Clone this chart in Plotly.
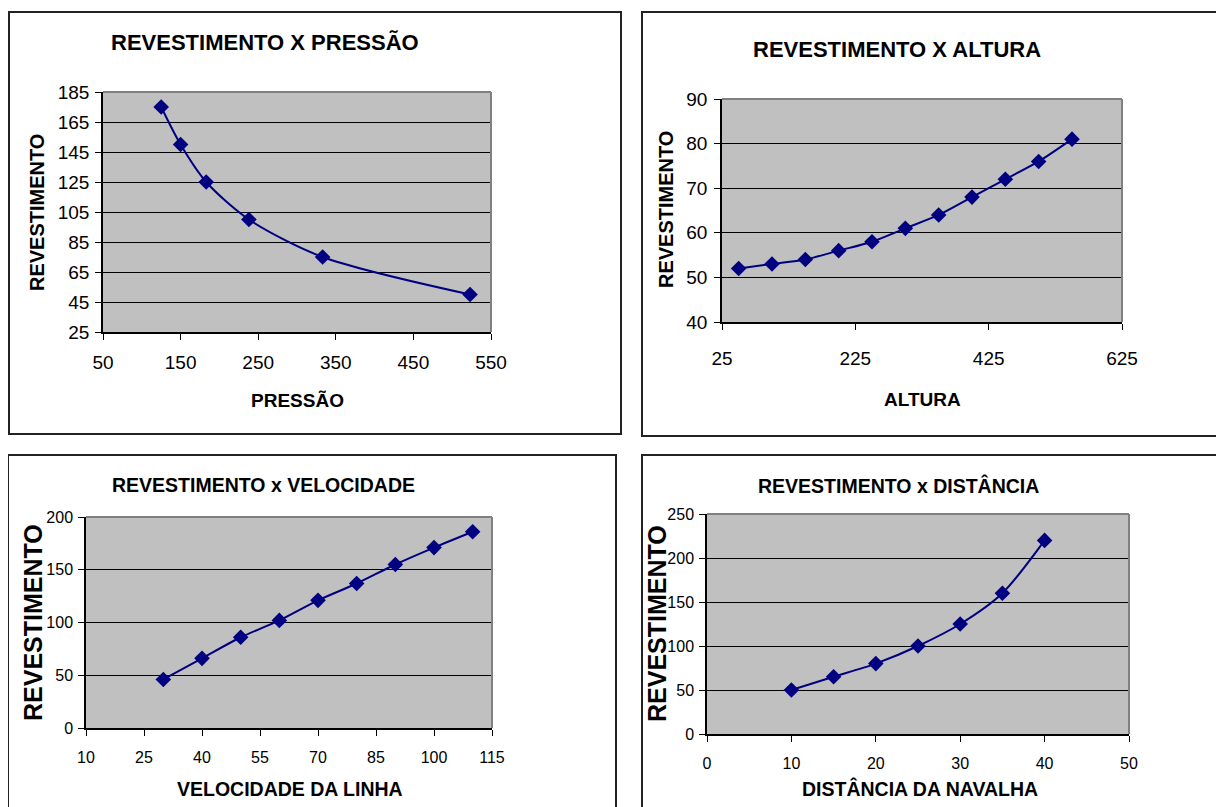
import plotly.graph_objects as go

W, H = 1224, 807
OFF = 8  # page body margin that the browser adds around the figure

# ---------------- data ----------------
pressao_x = [125, 150, 183, 238, 333, 523]
pressao_y = [175, 150, 125, 100, 75, 50]

altura_x = [50, 100, 150, 200, 250, 300, 350, 400, 450, 500, 550]
altura_y = [52, 53, 54, 56, 58, 61, 64, 68, 72, 76, 81]

velocidade_x = [30, 40, 50, 60, 70, 80, 90, 100, 110]
velocidade_y = [46, 66, 86, 102, 121, 137, 155, 171, 186]

distancia_x = [10, 15, 20, 25, 30, 35, 40]
distancia_y = [50, 65, 80, 100, 125, 160, 220]

titles = ["REVESTIMENTO X PRESSÃO", "REVESTIMENTO X ALTURA",
          "REVESTIMENTO x VELOCIDADE", "REVESTIMENTO x DISTÂNCIA"]
xtitles = ["PRESSÃO", "ALTURA", "VELOCIDADE DA LINHA", "DISTÂNCIA DA NAVALHA"]
ytitle = "REVESTIMENTO"

x_ticks = [[50, 150, 250, 350, 450, 550], [25, 225, 425, 625],
           [10, 25, 40, 55, 70, 85, 100, 115], [0, 10, 20, 30, 40, 50]]
y_ticks = [[25, 45, 65, 85, 105, 125, 145, 165, 185], [40, 50, 60, 70, 80, 90],
           [0, 50, 100, 150, 200], [0, 50, 100, 150, 200, 250]]

series = [(pressao_x, pressao_y), (altura_x, altura_y),
          (velocidade_x, velocidade_y), (distancia_x, distancia_y)]

# ---------------- layout (page pixels) ----------------
plot_px = [(103, 92, 491, 332), (722, 99, 1122, 322),
           (86, 517, 492, 728), (707, 514, 1129, 734)]
frame_px = [(9, 12, 621, 434), (642, 12, 1260, 436),
            (8, 455, 616, 840), (642, 455, 1260, 840)]
title_pos = [(265, 43), (897, 49), (263, 485), (898, 485)]
xtitle_pos = [(297, 400), (922, 399), (290, 789), (920, 788)]
ytitle_pos = [(37, 213), (666, 210), (33, 623), (657, 624)]
x_standoff = [6, 12, 8, 8]
y_standoff = [2, 3, 2, 2]

NAVY = "#000080"
FONT = "Liberation Sans, Arial, sans-serif"


def px(x):
    return (x - OFF) / W


def py(y):
    return 1 - (y - OFF) / H


fig = go.Figure()
shapes = []
annotations = []

for i in range(4):
    ax = "" if i == 0 else str(i + 1)
    xs, ys = series[i]
    fig.add_trace(go.Scatter(
        x=xs, y=ys, mode="lines+markers",
        line=dict(color=NAVY, width=2, shape="spline", smoothing=0.8),
        marker=dict(symbol="diamond", size=12, color=NAVY),
        xaxis="x" + ax, yaxis="y" + ax, showlegend=False,
    ))
    x0, y0, x1, y1 = plot_px[i]
    top = i < 2
    tick_size = 19 if top else 16
    xkey = "xaxis" + ax
    ykey = "yaxis" + ax
    fig.update_layout(**{
        xkey: dict(domain=[px(x0), px(x1)], anchor="y" + ax,
                   range=[x_ticks[i][0], x_ticks[i][-1]],
                   tickvals=x_ticks[i], ticks="outside", ticklen=6,
                   tickcolor="black", tickwidth=1.2, automargin=False,
                   showline=True, linecolor="black", linewidth=1.5,
                   showgrid=False, zeroline=False,
                   ticklabelstandoff=x_standoff[i],
                   tickfont=dict(family=FONT, size=tick_size, color="black")),
        ykey: dict(domain=[py(y1), py(y0)], anchor="x" + ax,
                   range=[y_ticks[i][0], y_ticks[i][-1]],
                   tickvals=y_ticks[i], ticks="outside", ticklen=6,
                   tickcolor="black", tickwidth=1.2, automargin=False,
                   showline=True, linecolor="black", linewidth=1.5,
                   showgrid=True, gridcolor="black", gridwidth=1,
                   zeroline=False, ticklabelstandoff=y_standoff[i],
                   tickfont=dict(family=FONT, size=tick_size, color="black")),
    })
    # gray top/right border of plot area
    shapes.append(dict(type="line", xref="paper", yref="paper",
                       x0=px(x0), x1=px(x1), y0=py(y0), y1=py(y0),
                       line=dict(color="#808080", width=2)))
    shapes.append(dict(type="line", xref="paper", yref="paper",
                       x0=px(x1), x1=px(x1), y0=py(y0), y1=py(y1),
                       line=dict(color="#808080", width=2)))
    # outer frame
    fx0, fy0, fx1, fy1 = frame_px[i]
    shapes.append(dict(type="rect", xref="paper", yref="paper",
                       x0=px(fx0), x1=px(fx1), y0=py(fy1), y1=py(fy0),
                       line=dict(color="#222222", width=2), layer="below"))
    # titles
    annotations.append(dict(text="<b>%s</b>" % titles[i], xref="paper", yref="paper",
                            x=px(title_pos[i][0]), y=py(title_pos[i][1]),
                            xanchor="center", yanchor="middle", showarrow=False,
                            font=dict(family=FONT, size=22 if top else 19.5, color="black")))
    annotations.append(dict(text="<b>%s</b>" % xtitles[i], xref="paper", yref="paper",
                            x=px(xtitle_pos[i][0]), y=py(xtitle_pos[i][1]),
                            xanchor="center", yanchor="middle", showarrow=False,
                            font=dict(family=FONT, size=19 if top else 19.5, color="black")))
    annotations.append(dict(text="<b>%s</b>" % ytitle, xref="paper", yref="paper",
                            x=px(ytitle_pos[i][0]), y=py(ytitle_pos[i][1]),
                            xanchor="center", yanchor="middle", showarrow=False,
                            textangle=-90,
                            font=dict(family=FONT, size=20 if top else 25, color="black")))

fig.update_layout(
    width=W, height=H,
    margin=dict(l=0, r=0, t=0, b=0, pad=0, autoexpand=False),
    paper_bgcolor="white", plot_bgcolor="#C0C0C0",
    showlegend=False, shapes=shapes, annotations=annotations,
)

fig.write_html("out.html")
